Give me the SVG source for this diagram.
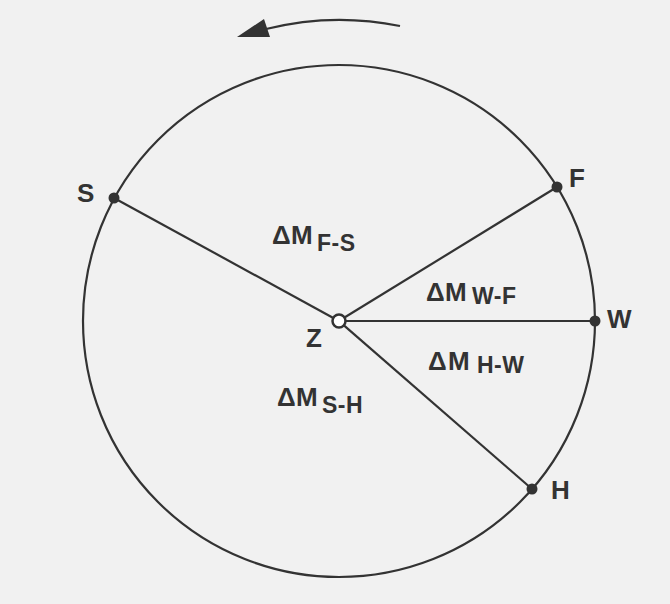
<svg xmlns="http://www.w3.org/2000/svg" width="670" height="604" viewBox="0 0 670 604">
<style>
.bg{fill:#f1f1f1}
.ln{stroke:#333;stroke-width:2.2;fill:none}
.dot{fill:#333}
.lbl{font-family:"Liberation Sans",Arial,sans-serif;font-size:26px;font-weight:bold;fill:#333}
.sub{font-size:23px;letter-spacing:0.5px}
</style>
<rect class="bg" x="0" y="0" width="670" height="604"/>
<g id="circle"><circle class="ln" cx="339" cy="321" r="256"/></g>
<g id="connectors">
<path class="ln" d="M400 26 A301 301 0 0 0 266 29"/>
<polygon class="dot" points="237,37 264,19 270,37"/>
<line class="ln" x1="332.9" y1="317.7" x2="114" y2="198"/>
<line class="ln" x1="344.9" y1="317.3" x2="557" y2="187"/>
<line class="ln" x1="346" y1="321" x2="595" y2="321"/>
<line class="ln" x1="344.2" y1="325.6" x2="532" y2="489"/>
</g>
<g id="Z"><circle cx="339" cy="321" r="6.5" fill="#fff" stroke="#333" stroke-width="2.5"/><text class="lbl" x="306" y="347">Z</text></g>
<g id="S"><circle class="dot" cx="114" cy="198" r="5.5"/><text class="lbl" x="77" y="202">S</text></g>
<g id="F"><circle class="dot" cx="557" cy="187" r="5.5"/><text class="lbl" x="569" y="187">F</text></g>
<g id="W"><circle class="dot" cx="595" cy="321" r="5.5"/><text class="lbl" x="607" y="328">W</text></g>
<g id="H"><circle class="dot" cx="532" cy="489" r="5.5"/><text class="lbl" x="551" y="499">H</text></g>
<g id="dFS"><text class="lbl"><tspan x="272" y="244">Δ</tspan><tspan x="291">M</tspan><tspan class="sub" x="317" y="251">F-S</tspan></text></g>
<g id="dWF"><text class="lbl"><tspan x="426" y="301">Δ</tspan><tspan x="445">M</tspan><tspan class="sub" x="472" y="304">W-F</tspan></text></g>
<g id="dHW"><text class="lbl"><tspan x="428" y="370">Δ</tspan><tspan x="448">M</tspan><tspan class="sub" x="477" y="373">H-W</tspan></text></g>
<g id="dSH"><text class="lbl"><tspan x="277" y="406">Δ</tspan><tspan x="296">M</tspan><tspan class="sub" x="322" y="413">S-H</tspan></text></g>
</svg>
